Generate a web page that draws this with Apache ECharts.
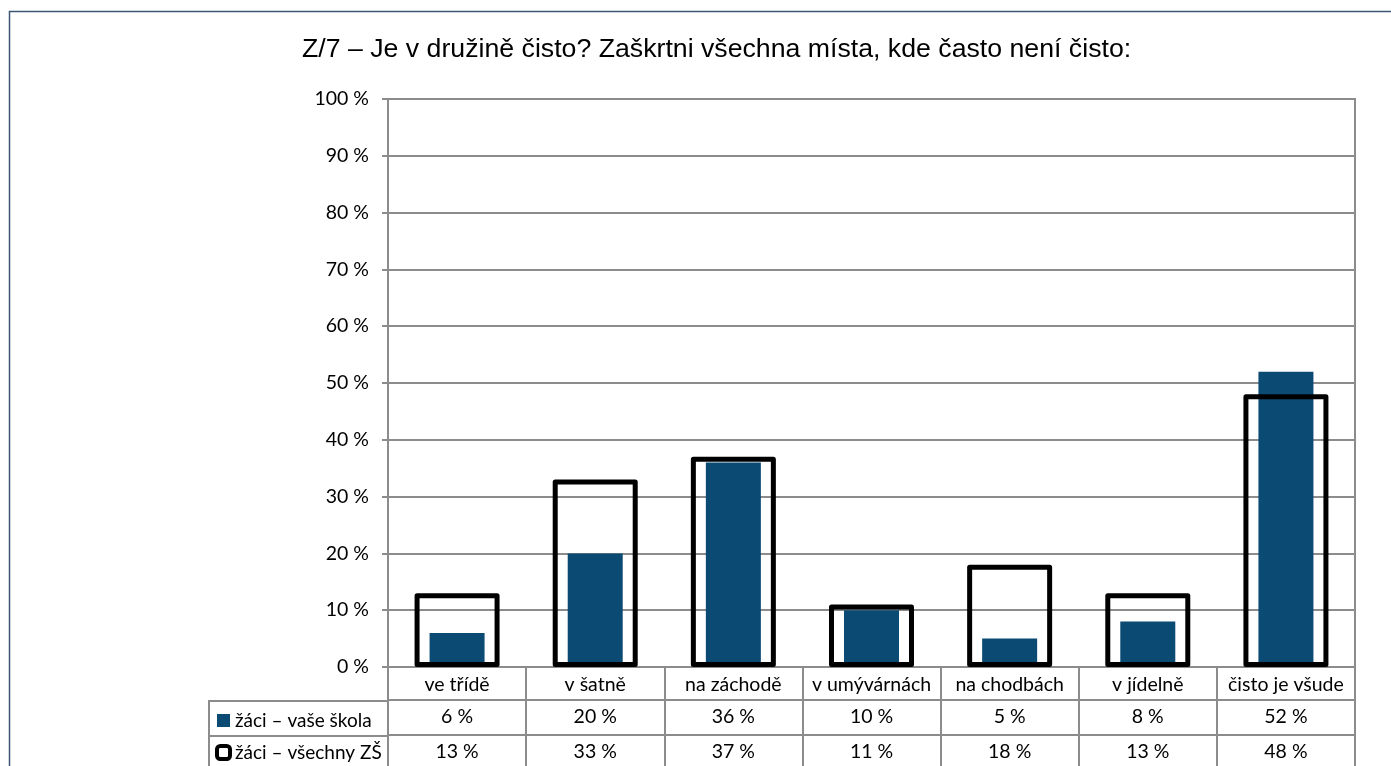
<!DOCTYPE html>
<html>
<head>
<meta charset="utf-8">
<title>Z/7</title>
<script src="https://cdn.jsdelivr.net/npm/echarts@6/dist/echarts.min.js"></script>
<style>
  html, body { margin: 0; padding: 0; background: #fff; }
  #chart { width: 1391px; height: 766px; }
</style>
</head>
<body>
<div id="chart"></div>
<script>
// data
const categories = ['ve třídě', 'v šatně', 'na záchodě', 'v umývárnách', 'na chodbách', 'v jídelně', 'čisto je všude']
const vaseSkola = [6, 20, 36, 10, 5, 8, 52]
const vsechnyZS = [13, 33, 37, 11, 18, 13, 48]
const seriesNames = ['žáci – vaše škola', 'žáci – všechny ZŠ']
const titleText = 'Z/7 – Je v družině čisto? Zaškrtni všechna místa, kde často není čisto:'

const FONT = 'Lato'
const FS = 19.5
const GRID = '#8c8c8c'
const BLUE = '#0b4a73'

function pct(v){
    return v + ' %'
}

const chart = echarts.init(document.getElementById('chart'))

const option = {
    animation: false,
    backgroundColor: '#fff',
    title: {
        text: titleText,
        left: 302,
        top: 36,
        padding: 0,
        textStyle: { fontFamily: 'Liberation Sans', fontSize: 26.7, fontWeight: 'normal', color: '#000' }
    },
    legend: {
        orient: 'vertical',
        left: 215,
        top: 711,
        height: 120,
        padding: 0,
        itemGap: 13,
        itemWidth: 13,
        itemHeight: 13,
        textStyle: { fontFamily: FONT, fontSize: 19, color: '#000' },
        data: [
            { name: seriesNames[0], icon: 'rect', itemStyle: { color: BLUE, borderWidth: 0 } },
            { name: seriesNames[1], icon: 'roundRect', itemStyle: { color: '#fff', borderColor: '#000', borderWidth: 4 } }
        ]
    },
    grid: {
        left: 388,
        right: 36,
        top: 99,
        bottom: 99,
        show: true,
        borderColor: GRID,
        borderWidth: 2
    },
    xAxis: [
        {   // category row of the table
            type: 'category',
            position: 'bottom',
            data: categories,
            axisLine: { lineStyle: { color: GRID, width: 2 } },
            axisTick: { show: true, length: 110, lineStyle: { color: GRID, width: 2 } },
            axisLabel: { interval: 0, margin: 8, fontFamily: FONT, fontSize: FS, color: '#000' }
        },
        {   // second category axis so both bars sit centred in each column
            type: 'category',
            position: 'bottom',
            data: categories,
            axisLine: { show: false },
            axisTick: { show: false },
            axisLabel: { show: false }
        },
        {   // row: vaše škola
            type: 'category',
            position: 'bottom',
            offset: 33,
            data: vaseSkola.map(pct),
            axisLine: { lineStyle: { color: GRID, width: 2 } },
            axisTick: { show: false },
            axisLabel: { interval: 0, margin: 7, fontFamily: FONT, fontSize: FS, color: '#000' }
        },
        {   // row: všechny ZŠ
            type: 'category',
            position: 'bottom',
            offset: 68,
            data: vsechnyZS.map(pct),
            axisLine: { lineStyle: { color: GRID, width: 2 } },
            axisTick: { show: false },
            axisLabel: { interval: 0, margin: 7, fontFamily: FONT, fontSize: FS, color: '#000' }
        }
    ],
    yAxis: {
        type: 'value',
        min: 0,
        max: 100,
        interval: 10,
        axisLine: { show: true, lineStyle: { color: GRID, width: 2 } },
        axisTick: { show: true, length: 6, lineStyle: { color: GRID, width: 2 } },
        splitLine: { lineStyle: { color: GRID, width: 2 } },
        axisLabel: { margin: 19, fontFamily: FONT, fontSize: FS, color: '#000', formatter: pct }
    },
    series: [
        {
            name: seriesNames[0],
            type: 'bar',
            xAxisIndex: 0,
            barWidth: 55,
            data: vaseSkola,
            itemStyle: { color: BLUE }
        },
        {
            name: seriesNames[1],
            type: 'bar',
            xAxisIndex: 1,
            barWidth: 85,
            data: vsechnyZS,
            itemStyle: { color: 'rgba(0,0,0,0)', borderColor: '#000', borderWidth: 5, borderJoin: 'round' }
        }
    ],
    graphic: [
        // outer chart frame
        { type: 'rect', shape: { x: 9.5, y: 11.5, width: 1420, height: 800 },
          style: { fill: 'none', stroke: '#3d5674', lineWidth: 1.5 }, silent: true },
        // left part of the data table (legend cells)
        { type: 'line', shape: { x1: 209, y1: 701, x2: 388, y2: 701 }, style: { stroke: GRID, lineWidth: 2 } },
        { type: 'line', shape: { x1: 209, y1: 736, x2: 388, y2: 736 }, style: { stroke: GRID, lineWidth: 2 } },
        { type: 'line', shape: { x1: 209, y1: 700, x2: 209, y2: 780 }, style: { stroke: GRID, lineWidth: 2 } }
    ]
}

chart.setOption(option)
</script>
</body>
</html>
